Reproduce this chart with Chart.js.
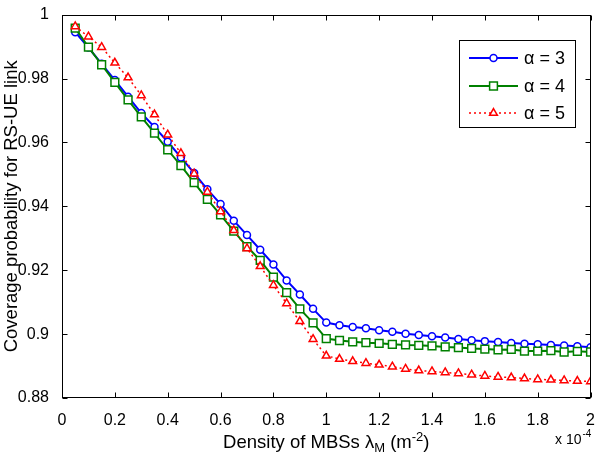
<!DOCTYPE html>
<html>
<head>
<meta charset="utf-8">
<script src="https://cdn.jsdelivr.net/npm/chart.js@4.4.1/dist/chart.umd.min.js"></script>
<style>
  html, body { margin: 0; padding: 0; background: #fff; }
  #wrap { width: 600px; height: 460px; }
</style>
</head>
<body>
<div id="wrap"><canvas id="chart" width="600" height="460"></canvas></div>
<script>
// Densidad de MBSs (en unidades de 1e-4 m^-2)
const densidad = [0.05, 0.1, 0.15, 0.2, 0.25, 0.3, 0.35, 0.4, 0.45, 0.5,
  0.55, 0.6, 0.65, 0.7, 0.75, 0.8, 0.85, 0.9, 0.95, 1.0,
  1.05, 1.1, 1.15, 1.2, 1.25, 1.3, 1.35, 1.4, 1.45, 1.5,
  1.55, 1.6, 1.65, 1.7, 1.75, 1.8, 1.85, 1.9, 1.95, 2.0];

// Probabilidad de cobertura para cada alpha
const alpha3 = [0.9945, 0.9897, 0.9846, 0.9795, 0.9743, 0.9692, 0.9648, 0.9602, 0.9553, 0.9504,
  0.9453, 0.9407, 0.9355, 0.9310, 0.9264, 0.9218, 0.9168, 0.9124, 0.9079, 0.9036,
  0.9028, 0.9022, 0.9018, 0.9012, 0.9007, 0.9001, 0.8997, 0.8993, 0.8989, 0.8985,
  0.8981, 0.8978, 0.8975, 0.8972, 0.8970, 0.8968, 0.8966, 0.8964, 0.8962, 0.8959];
const alpha4 = [0.9958, 0.9898, 0.9843, 0.9788, 0.9733, 0.9680, 0.9629, 0.9577, 0.9527, 0.9474,
  0.9422, 0.9373, 0.9322, 0.9274, 0.9231, 0.9178, 0.9130, 0.9079, 0.9035, 0.8986,
  0.8980, 0.8976, 0.8973, 0.8971, 0.8968, 0.8966, 0.8965, 0.8963, 0.8960, 0.8958,
  0.8955, 0.8953, 0.8951, 0.8952, 0.8947, 0.8947, 0.8948, 0.8944, 0.8946, 0.8944];
const alpha5 = [0.9963, 0.9931, 0.9898, 0.9849, 0.9803, 0.9747, 0.9687, 0.9624, 0.9566, 0.9502,
  0.9445, 0.9384, 0.9325, 0.9268, 0.9212, 0.9153, 0.9096, 0.9040, 0.8984, 0.8932,
  0.8922, 0.8915, 0.8909, 0.8904, 0.8898, 0.8891, 0.8886, 0.8883, 0.8880, 0.8877,
  0.8873, 0.8869, 0.8866, 0.8864, 0.8861, 0.8858, 0.8857, 0.8855, 0.8853, 0.8852];

const seriesLabels = ['α = 3', 'α = 4', 'α = 5'];
const xTicks = [0, 0.2, 0.4, 0.6, 0.8, 1, 1.2, 1.4, 1.6, 1.8, 2];
const yTicks = [0.88, 0.9, 0.92, 0.94, 0.96, 0.98, 1];

const FONT = 'Arial, "Liberation Sans", sans-serif';

function toPoints(ys) {
  return densidad.map((x, i) => ({ x: x, y: ys[i] }));
}

// Plugin: marco, ticks hacia adentro, título del eje x, exponente y leyenda
const marcoPlugin = {
  id: 'marco',
  afterDraw(chart) {
    const { ctx, chartArea: a, scales } = chart;
    const L = Math.round(a.left) + 0.5, R = Math.round(a.right) - 0.5;
    const T = Math.round(a.top) + 0.5, B = Math.round(a.bottom) - 0.5;
    ctx.save();
    ctx.strokeStyle = '#000';
    ctx.lineWidth = 1;
    ctx.setLineDash([]);
    ctx.strokeRect(L, T, R - L, B - T);

    const tl = 5;
    ctx.beginPath();
    xTicks.forEach(v => {
      const px = Math.round(scales.x.getPixelForValue(v)) + 0.5;
      ctx.moveTo(px, B); ctx.lineTo(px, B - tl);
      ctx.moveTo(px, T); ctx.lineTo(px, T + tl);
    });
    yTicks.forEach(v => {
      const py = Math.round(scales.y.getPixelForValue(v)) + 0.5;
      ctx.moveTo(L, py); ctx.lineTo(L + tl, py);
      ctx.moveTo(R, py); ctx.lineTo(R - tl, py);
    });
    ctx.stroke();

    // Título del eje x con subíndice y superíndice
    ctx.fillStyle = '#000';
    ctx.textBaseline = 'alphabetic';
    ctx.textAlign = 'left';
    const parts = [
      { t: 'Density of MBSs λ', s: 18.5, dy: 0 },
      { t: 'M', s: 13, dy: 4 },
      { t: ' (m', s: 18.5, dy: 0 },
      { t: '-2', s: 13, dy: -7 },
      { t: ')', s: 18.5, dy: 0 }
    ];
    let total = 0;
    parts.forEach(p => { ctx.font = p.s + 'px ' + FONT; p.w = ctx.measureText(p.t).width; total += p.w; });
    let cx = (a.left + a.right) / 2 - total / 2;
    const base = 448;
    parts.forEach(p => {
      ctx.font = p.s + 'px ' + FONT;
      ctx.fillText(p.t, cx, base + p.dy);
      cx += p.w;
    });

    // Exponente del eje x
    ctx.font = '14px ' + FONT;
    ctx.fillText('x 10', 555, 444);
    const w10 = ctx.measureText('x 10').width;
    ctx.font = '10px ' + FONT;
    ctx.fillText('-4', 555 + w10 + 1, 437);

    // Leyenda
    const box = { x: 459.5, y: 40.5, w: 116, h: 87 };
    ctx.fillStyle = '#fff';
    ctx.fillRect(box.x, box.y, box.w, box.h);
    ctx.strokeStyle = '#000';
    ctx.lineWidth = 1;
    ctx.strokeRect(box.x, box.y, box.w, box.h);
    const rowsY = [58, 86, 113];
    chart.data.datasets.forEach((ds, i) => {
      const y = rowsY[i];
      ctx.strokeStyle = ds.borderColor;
      ctx.lineWidth = ds.borderWidth;
      ctx.setLineDash(ds.borderDash || []);
      ctx.beginPath();
      ctx.moveTo(469, y); ctx.lineTo(518, y);
      ctx.stroke();
      ctx.setLineDash([]);
      ctx.fillStyle = ds.pointBackgroundColor;
      ctx.strokeStyle = ds.pointBorderColor;
      ctx.lineWidth = ds.pointBorderWidth;
      Chart.helpers.drawPoint(ctx, { pointStyle: ds.pointStyle, radius: ds.pointRadius, rotation: 0, borderWidth: ds.pointBorderWidth }, 493.5, y);
      ctx.fillStyle = '#000';
      ctx.font = '18px ' + FONT;
      ctx.textBaseline = 'middle';
      ctx.fillText(ds.label, 524, y + 1);
    });
    ctx.restore();
  }
};

const ctx = document.getElementById('chart').getContext('2d');
new Chart(ctx, {
  type: 'line',
  data: {
    datasets: [
      {
        label: seriesLabels[0],
        data: toPoints(alpha3),
        borderColor: '#0000ff',
        borderWidth: 2,
        pointStyle: 'circle',
        pointRadius: 3.5,
        pointBorderWidth: 1.5,
        pointBorderColor: '#0000ff',
        pointBackgroundColor: '#ffffff',
        order: 2
      },
      {
        label: seriesLabels[1],
        data: toPoints(alpha4),
        borderColor: '#008000',
        borderWidth: 2,
        pointStyle: 'rect',
        pointRadius: 5.5,
        pointBorderWidth: 1.5,
        pointBorderColor: '#008000',
        pointBackgroundColor: '#ffffff',
        order: 1
      },
      {
        label: seriesLabels[2],
        data: toPoints(alpha5),
        borderColor: '#ff0000',
        borderWidth: 1.5,
        borderDash: [2, 3],
        pointStyle: 'triangle',
        pointRadius: 4.5,
        pointBorderWidth: 1.5,
        pointBorderColor: '#ff0000',
        pointBackgroundColor: '#ffffff',
        order: 0
      }
    ]
  },
  options: {
    responsive: false,
    animation: false,
    layout: { padding: { left: 0, right: 5, top: 8, bottom: 0 } },
    plugins: {
      legend: { display: false },
      tooltip: { enabled: false }
    },
    elements: { line: { tension: 0, fill: false } },
    scales: {
      x: {
        type: 'linear',
        min: 0,
        max: 2,
        afterBuildTicks: s => { s.ticks = xTicks.map(v => ({ value: v })); },
        afterFit: s => { s.height = 62; },
        grid: { display: false },
        border: { display: false },
        ticks: {
          color: '#000',
          font: { family: FONT, size: 16 },
          padding: 5,
          maxRotation: 0,
          autoSkip: false,
          callback: v => String(+Number(v).toFixed(2))
        }
      },
      y: {
        type: 'linear',
        min: 0.88,
        max: 1,
        afterBuildTicks: s => { s.ticks = yTicks.map(v => ({ value: v })); },
        afterFit: s => { s.width = 62; },
        grid: { display: false },
        border: { display: false },
        title: {
          display: true,
          text: 'Coverage probability for RS-UE link',
          color: '#000',
          font: { family: FONT, size: 18.5 },
          padding: { top: 1, bottom: 0 }
        },
        ticks: {
          color: '#000',
          font: { family: FONT, size: 16 },
          padding: 5,
          autoSkip: false,
          callback: v => String(+Number(v).toFixed(2))
        }
      }
    }
  },
  plugins: [marcoPlugin]
});
</script>
</body>
</html>
